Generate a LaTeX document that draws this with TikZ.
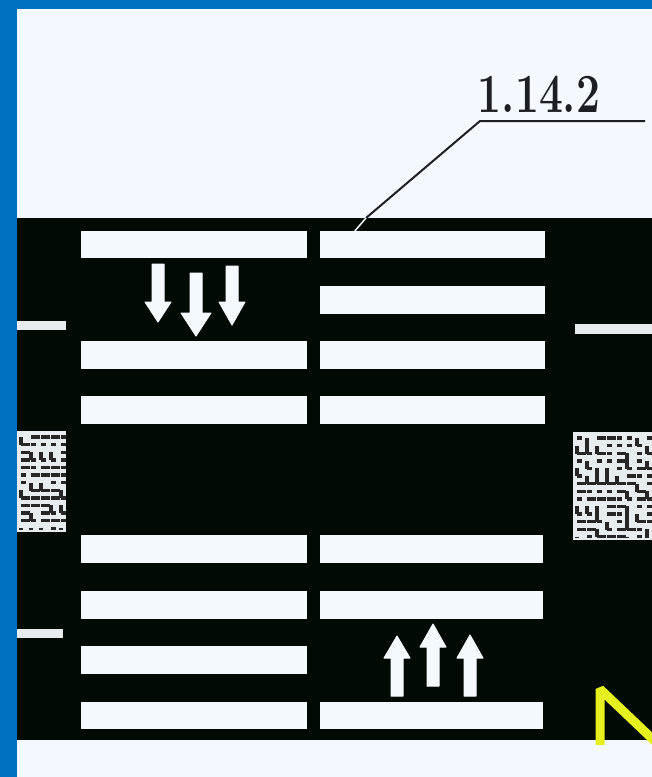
\documentclass[tikz,border=0pt]{standalone}
\usetikzlibrary{calc}
\definecolor{frameblue}{HTML}{0070C0}
\definecolor{paper}{HTML}{F3F9FF}
\definecolor{road}{HTML}{020A04}
\definecolor{stripe}{HTML}{F3F9FC}
\definecolor{signyellow}{HTML}{E6F01E}
\definecolor{inkline}{HTML}{1C2024}
\tikzset{
  x=1pt,y=-1pt,
  stripebar/.style={fill=stripe,draw=none},
  stopline/.style={fill=stripe!95!black,draw=none},
  hatchline/.style={draw=black!85,line width=3.4pt},
  roadarrow/.style={fill=stripe,draw=stripe,line width=1pt,line join=round},
  leader/.style={draw=inkline,line width=2pt},
}
\newcommand{\stripebar}[4]{\fill[stripebar] (#1,#2) rectangle (#3,#4);}
\newcommand{\rarrow}[5]{\path[roadarrow] ({#1-6},#2) -- ({#1+6},#2) -- ({#1+6},#3) -- ({#1+#5},#3) -- (#1,#4) -- ({#1-#5},#3) -- ({#1-6},#3) -- cycle;}
\newcommand{\mazepatch}[5]{%
  \fill[stripe!95!black] (#1,#2) rectangle (#3,#4);
  \begin{scope}
  \clip ({#1},{#2+3}) rectangle ({#3},{#4-3});
  \pgfmathsetseed{#5}
  \foreach \gx in {0,...,9}{\foreach \gy in {0,...,13}{
    \pgfmathrandominteger{\kind}{0}{3}
    \pgfmathsetmacro{\px}{#1+4+\gx*10}
    \pgfmathsetmacro{\py}{#2+6+\gy*7.6}
    \ifnum\kind<2
      \draw[hatchline] (\px,\py) -- ({\px+9},\py);
    \else\ifnum\kind=2
      \draw[hatchline] (\px,\py) -- (\px,{\py+8});
    \else
      \draw[hatchline] (\px,\py) -- ({\px+5},\py);
    \fi\fi
  }}
  \end{scope}
}
\begin{document}
\begin{tikzpicture}
\useasboundingbox (0,0) rectangle (652,777);
\fill[frameblue] (0,0) rectangle (652,777);
\fill[paper] (17,9) rectangle (652,777);
\fill[road] (17,218) rectangle (652,740);
\foreach \ya/\yb in {231/258,341/369,396/424,535/563,591/619,646/674,702/729}
  {\stripebar{81}{\ya}{307}{\yb}}
\foreach \ya/\yb in {231/258,286/314,341/369,396/424}
  {\stripebar{320}{\ya}{545}{\yb}}
\foreach \ya/\yb in {535/563,591/619,702/729}
  {\stripebar{320}{\ya}{543}{\yb}}
\fill[stopline] (17,321) rectangle (66,330);
\fill[stopline] (17,629) rectangle (63,638);
\fill[stopline] (575,324) rectangle (652,334);
\mazepatch{17}{431}{66}{532}{42}
\mazepatch{573}{432}{652}{540}{7}
\rarrow{158}{264}{302}{322}{13}
\rarrow{196}{273}{313}{336}{15}
\rarrow{232}{266}{302}{325}{13}
\rarrow{397}{696}{658}{636}{13}
\rarrow{433}{686}{647}{624}{13}
\rarrow{470}{696}{658}{635}{13}
\begin{scope}
\clip (17,218) rectangle (652,745);
\draw[signyellow,line width=9pt,line join=bevel] (600,745) -- (600,689) -- (662,748);
\end{scope}
\node[inner sep=0pt,anchor=base,text=inkline,yscale=1.3,font=\fontsize{42.5}{43}\selectfont\bfseries] (lbl) at (539,112) {1.14.2};
\coordinate (knee) at (480,121);
\coordinate (lineend) at (645,121);
\coordinate (roadedge) at (366,218);
\coordinate (foot) at (354,232);
\draw[leader] (roadedge) -- (knee) -- (lineend);
\draw[stripe,line width=1.5pt] (roadedge) -- (foot);
\end{tikzpicture}
\end{document}
